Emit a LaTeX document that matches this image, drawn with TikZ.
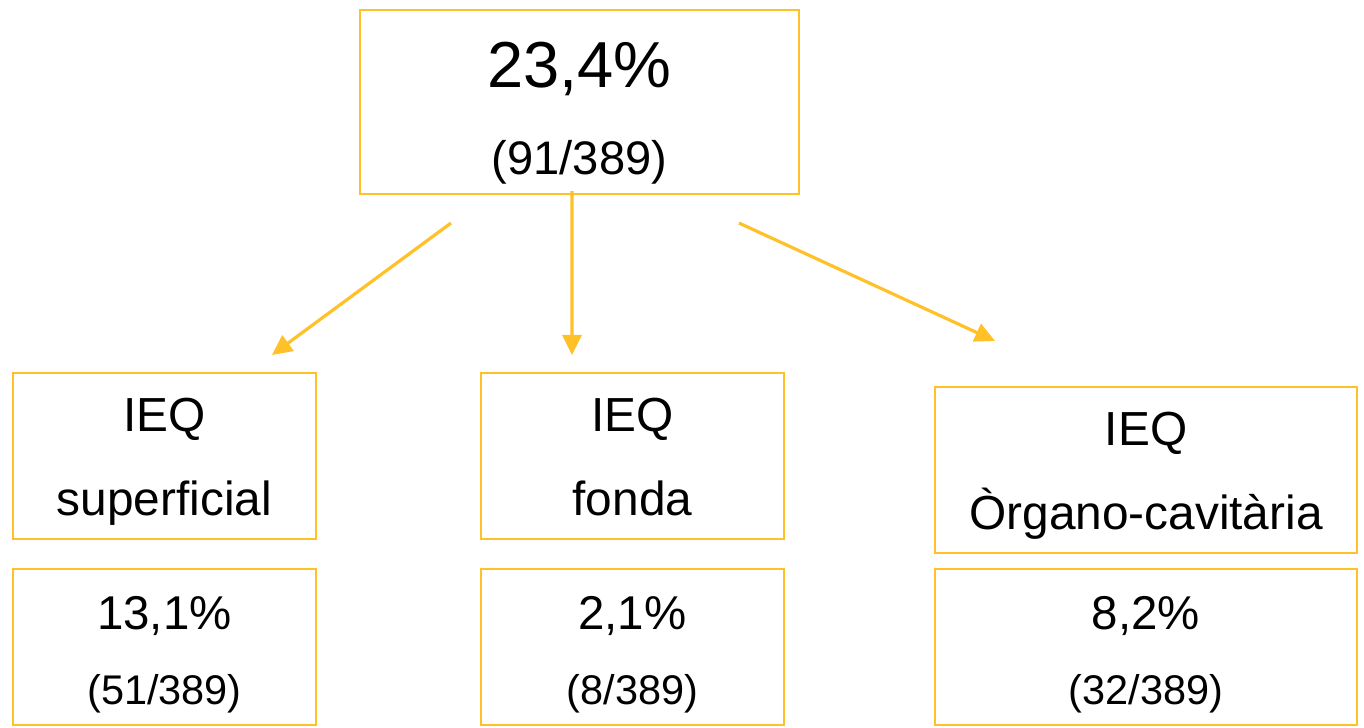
\documentclass[tikz,border=0pt]{standalone}
\usepackage{fontspec}
\setmainfont{Liberation Sans}
\usetikzlibrary{arrows.meta}

\definecolor{gold}{RGB}{255,192,40}

\tikzset{
  box/.style={draw=gold,line width=0.6pt,align=center,inner sep=0pt},
  upbox/.style={box,font=\fontsize{13.6}{23.9}\selectfont,minimum height=1.66cm,
    text height=1.43cm,text depth=0.23cm},
  lowbox/.style={box,font=\fontsize{11.8}{21.6}\selectfont,minimum height=1.56cm,
    text height=1.36cm,text depth=0.20cm},
  link/.style={draw=gold,line width=0.9pt,-{Triangle[length=0.2cm,width=0.19cm]}}
}
\newcommand\pctsize{\fontsize{13.5}{21.6}\selectfont}

\begin{document}
\begin{tikzpicture}
  \useasboundingbox (0,0) rectangle (13.64,7.28);
  % total
  \node[box,font=\fontsize{13.4}{24.8}\selectfont,minimum width=4.39cm,minimum height=1.84cm,
    text height=1.65cm,text depth=0.19cm] (total) at (5.795,6.26)
    {\fontsize{18.5}{24.8}\selectfont 23,4\%\\(91/389)};
  % types
  \node[upbox,minimum width=3.03cm] (sup) at (1.645,2.72) {IEQ\\superficial};
  \node[upbox,minimum width=3.03cm] (fon) at (6.325,2.72) {IEQ\\fonda};
  \node[upbox,minimum width=4.22cm] (org) at (11.46,2.58) {IEQ\\Òrgano-cavitària};
  % values
  \node[lowbox,minimum width=3.03cm] (supv) at (1.645,0.81) {\pctsize 13,1\%\\(51/389)};
  \node[lowbox,minimum width=3.03cm] (fonv) at (6.325,0.81) {\pctsize 2,1\%\\(8/389)};
  \node[lowbox,minimum width=4.22cm] (orgv) at (11.46,0.81) {\pctsize 8,2\%\\(32/389)};
  % arrows
  \coordinate (s1) at ([xshift=-1.285cm,yshift=-0.28cm]total.south);
  \coordinate (s2) at ([xshift=-0.075cm,yshift=0.04cm]total.south);
  \coordinate (s3) at ([xshift=1.595cm,yshift=-0.28cm]total.south);
  \coordinate (e1) at ([xshift=1.075cm,yshift=0.17cm]sup.north);
  \coordinate (e2) at ([xshift=-0.605cm,yshift=0.17cm]fon.north);
  \coordinate (e3) at ([xshift=-1.51cm,yshift=0.45cm]org.north);
  \draw[link] (s1) -- (e1);
  \draw[link] (s2) -- (e2);
  \draw[link] (s3) -- (e3);
\end{tikzpicture}
\end{document}
